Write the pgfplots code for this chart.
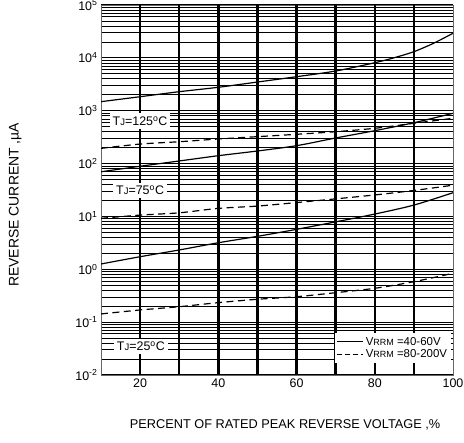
\documentclass[border=0pt]{standalone}
\usepackage{fontspec}
\setmainfont{Liberation Sans}
\usepackage{pgfplots}
\pgfplotsset{compat=1.18}
\usetikzlibrary{calc}
\begin{document}
\begin{tikzpicture}
\begin{axis}[
  name=ax,
  scale only axis,
  width=352bp, height=370bp,
  xmin=10, xmax=100,
  ymode=log, ymin=1e-2, ymax=1e5,
  xtick={20,40,60,80,100},
  ytick={1e-2,1e-1,1e0,1e1,1e2,1e3,1e4,1e5},
  yticklabels={10\textsuperscript{-2},10\textsuperscript{-1},10\textsuperscript{0},10\textsuperscript{1},10\textsuperscript{2},10\textsuperscript{3},10\textsuperscript{4},10\textsuperscript{5}},
  xticklabel style={font=\fontsize{12.5}{14}\selectfont},
  yticklabel style={font=\fontsize{12.5}{14}\selectfont},
  /pgf/number format/assume math mode=true,
  major tick length=0pt, minor tick length=0pt,
  ymajorgrids, yminorgrids,
  major y grid style={black, line width=1.1pt},
  minor y grid style={black, line width=0.8pt},
  axis line style={black!60, line width=1pt},
  xlabel={PERCENT OF RATED PEAK REVERSE VOLTAGE ,\%},
  ylabel={REVERSE CURRENT ,\textmu A},
  xlabel style={font=\fontsize{12.8}{14}\selectfont, at={(axis description cs:0.523,-0.135)}, anchor=center},
  ylabel style={font=\fontsize{14}{16}\selectfont, at={(axis description cs:-0.244,0.46)}, anchor=center},
  legend style={at={(axis description cs:0.995,0.032)}, anchor=south east, draw=none, fill=white,
    font=\fontsize{11.5}{13}\selectfont, row sep=-1pt, inner sep=2pt},
  legend cell align=left,
  legend image code/.code={\draw[#1] (0cm,0cm) -- (26bp,0cm);},
]
\draw[black, line width=2.5pt] (axis cs:20,1e-2) -- (axis cs:20,1e5);
\draw[black, line width=2.5pt] (axis cs:30,1e-2) -- (axis cs:30,1e5);
\draw[black, line width=2.5pt] (axis cs:40,1e-2) -- (axis cs:40,1e5);
\draw[black, line width=2.5pt] (axis cs:50,1e-2) -- (axis cs:50,1e5);
\draw[black, line width=2.5pt] (axis cs:60,1e-2) -- (axis cs:60,1e5);
\draw[black, line width=2.5pt] (axis cs:70,1e-2) -- (axis cs:70,1e5);
\draw[black, line width=2.5pt] (axis cs:80,1e-2) -- (axis cs:80,1e5);
\draw[black, line width=2.5pt] (axis cs:90,1e-2) -- (axis cs:90,1e5);
% TJ=125C
\addplot[black, line width=1.2pt, smooth, forget plot] coordinates {
(10,1483) (20,1841) (30,2290) (40,2775) (50,3490) (60,4400) (70,5640) (80,8090) (85,10070) (90,13090) (95,18830) (100,29200)};
\addplot[black, line width=1.2pt, smooth, dash pattern=on 7pt off 4.5pt, forget plot] coordinates {
(10,194) (20,234) (30,259) (40,292) (50,323) (60,358) (70,401) (80,465) (90,578) (100,719)};
% TJ=75C
\addplot[black, line width=1.2pt, smooth, forget plot] coordinates {
(10,70) (20,89) (30,112) (40,141) (50,173) (60,218) (70,305) (80,419) (90,593) (100,893)};
\addplot[black, line width=1.2pt, smooth, dash pattern=on 7pt off 4.5pt, forget plot] coordinates {
(10,9.2) (20,10.6) (30,11.7) (40,14.2) (50,15.7) (60,18.3) (70,21.5) (80,25.5) (90,31) (100,39)};
% TJ=25C
\addplot[black, line width=1.2pt, smooth, forget plot] coordinates {
(10,1.26) (20,1.73) (30,2.32) (40,3.18) (50,4.2) (60,5.7) (70,7.9) (80,11.1) (90,16.4) (100,28.1)};
\addplot[black, line width=1.2pt, smooth, dash pattern=on 7pt off 4.5pt, forget plot] coordinates {
(10,0.143) (20,0.17) (30,0.196) (40,0.234) (50,0.271) (60,0.303) (70,0.361) (80,0.437) (90,0.583) (100,0.84)};
\addlegendimage{black, line width=0.9pt}
\addlegendentry{V{\fontsize{9}{10}\selectfont RRM} =40-60V}
\addlegendimage{black, line width=0.9pt, dash pattern=on 5pt off 3pt}
\addlegendentry{V{\fontsize{9}{10}\selectfont RRM} =80-200V}
\node[fill=white, inner sep=3pt, font=\fontsize{12.5}{14}\selectfont] at (axis cs:20,640) {T{\fontsize{9.5}{10}\selectfont J}=125\textsuperscript{o}C};
\node[fill=white, inner sep=3pt, font=\fontsize{12.5}{14}\selectfont] at (axis cs:20,31) {T{\fontsize{9.5}{10}\selectfont J}=75\textsuperscript{o}C};
\node[fill=white, inner sep=3pt, font=\fontsize{12.5}{14}\selectfont] at (axis cs:20.2,0.035) {T{\fontsize{9.5}{10}\selectfont J}=25\textsuperscript{o}C};
\end{axis}
\pgfresetboundingbox
\path ($(ax.south west)+(-101bp,-67bp)$) rectangle ($(ax.north east)+(11bp,5bp)$);
\end{tikzpicture}
\end{document}
